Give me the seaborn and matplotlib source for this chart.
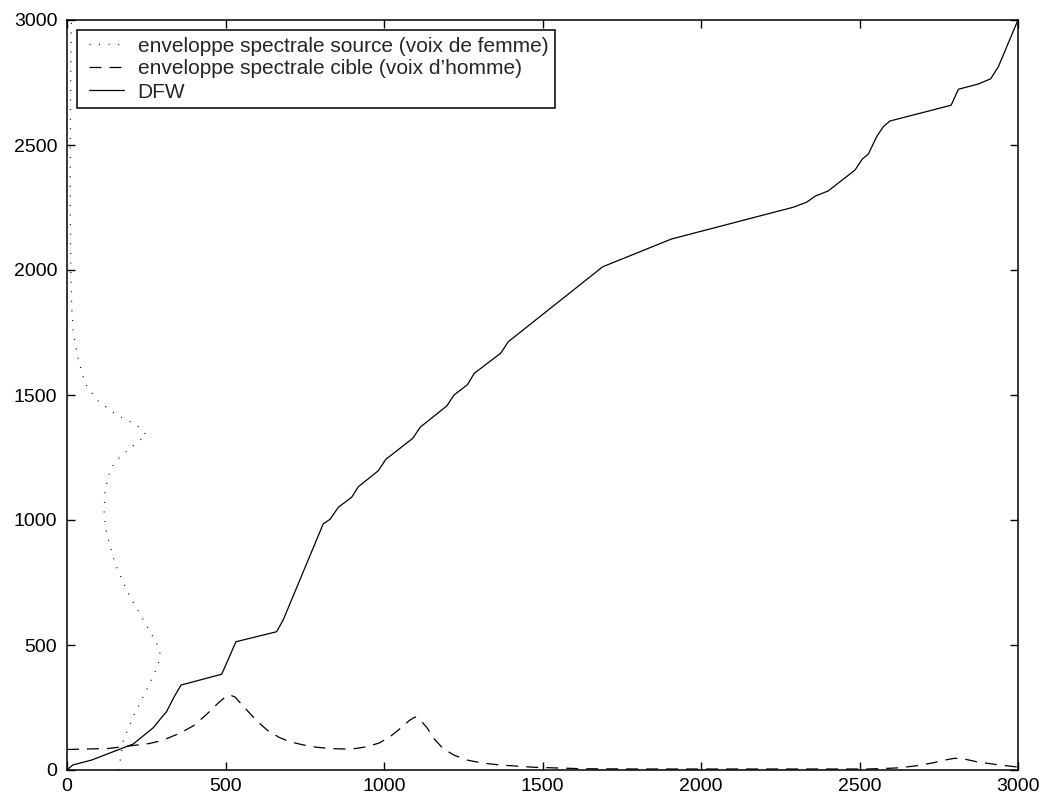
import matplotlib
matplotlib.use("Agg")
import matplotlib.pyplot as plt
import seaborn as sns
import pandas as pd
from matplotlib.lines import Line2D
from matplotlib.legend_handler import HandlerLine2D

# Source spectral envelope (female voice): amplitude on x, frequency on y
src_amp = [163, 178, 209, 251, 288, 293, 283, 241, 193, 151, 125, 117, 120, 136, 157,
           204, 251, 220, 157, 94, 57, 36, 20, 15, 12, 10, 11, 12, 14]
src_freq = [0, 120, 213, 320, 420, 467, 507, 600, 707, 827, 947, 1027, 1120, 1200, 1240,
            1293, 1340, 1380, 1420, 1480, 1547, 1640, 1747, 1847, 2000, 2300, 2600, 2850, 3000]

# Target spectral envelope (male voice)
tgt_freq = [0, 130, 209, 260, 300, 356, 400, 440, 477, 500, 514, 530, 567, 600, 631, 670,
            703, 750, 787, 830, 872, 910, 945, 985, 1019, 1050, 1080, 1098, 1112, 1135,
            1160, 1187, 1220, 1261, 1310, 1366, 1471, 1628, 1800, 2100, 2400, 2523,
            2580, 2628, 2680, 2733, 2770, 2801, 2830, 2870, 2930, 2991, 3000]
tgt_amp = [82, 86, 98, 106, 118, 147, 178, 222, 268, 293, 300, 292, 240, 195, 160, 130,
           113, 99, 91, 86, 84, 86, 93, 108, 133, 165, 198, 212, 204, 170,
           122, 85, 60, 40, 28, 20, 11, 5, 4, 4, 4, 4,
           6, 9, 17, 29, 40, 47, 44, 33, 22, 13, 12]

# Dynamic frequency warping path
dfw_src = [0, 18, 78, 209, 272, 299, 314, 338, 360, 488, 533, 661, 682, 808, 830, 856,
           898, 919, 982, 1006, 1091, 1114, 1198, 1221, 1263, 1285, 1368, 1392, 1690,
           1907, 2291, 2333, 2361, 2401, 2486, 2509, 2528, 2554, 2575, 2596, 2789, 2812,
           2875, 2914, 2938, 3000]
dfw_tgt = [0, 20, 40, 104, 169, 211, 233, 293, 340, 383, 513, 553, 600, 984, 1003, 1051,
           1091, 1133, 1197, 1243, 1327, 1371, 1456, 1500, 1541, 1587, 1667, 1713, 2013,
           2124, 2251, 2271, 2296, 2316, 2400, 2444, 2464, 2533, 2573, 2596, 2659, 2723,
           2744, 2765, 2813, 3000]

labels = ["enveloppe spectrale source (voix de femme)",
          "enveloppe spectrale cible (voix d\u2019homme)",
          "DFW"]
ticks = [0, 500, 1000, 1500, 2000, 2500, 3000]

sns.set_theme(style="white")
plt.rcParams["font.family"] = ["Liberation Sans", "DejaVu Sans"]
plt.rcParams["lines.scale_dashes"] = False

fig = plt.figure(figsize=(10.43, 7.98), dpi=100)
ax = fig.add_axes([67 / 1043, 28 / 798, 951 / 1043, 750 / 798])

src = pd.DataFrame({"amp": src_amp, "freq": src_freq})
tgt = pd.DataFrame({"freq": tgt_freq, "amp": tgt_amp})
dfw = pd.DataFrame({"src": dfw_src, "tgt": dfw_tgt})

lw = 0.9
sns.lineplot(data=src, x="amp", y="freq", sort=False, estimator=None, ax=ax,
             color="black", lw=lw, label=labels[0])
ax.lines[-1].set_dashes((0.7, 6.2))
sns.lineplot(data=tgt, x="freq", y="amp", sort=False, estimator=None, ax=ax,
             color="black", lw=lw, label=labels[1])
ax.lines[-1].set_dashes((8.6, 5.8))
sns.lineplot(data=dfw, x="src", y="tgt", sort=False, estimator=None, ax=ax,
             color="black", lw=lw, label=labels[2])

ax.set_xlim(0, 3000)
ax.set_ylim(0, 3000)
ax.set_xticks(ticks)
ax.set_yticks(ticks)
ax.set_xlabel("")
ax.set_ylabel("")
ax.tick_params(direction="in", length=6, width=1.0, colors="black",
               labelsize=14, top=True, right=True, bottom=True, left=True)
ax.tick_params(axis="y", pad=7)
ax.tick_params(axis="x", pad=6)
for s in ax.spines.values():
    s.set_color("black")
    s.set_linewidth(1.1)
    s.set_visible(True)
ax.grid(False)

fs = 15
px = fs * 100 / 72
leg = ax.legend(loc="upper left", bbox_to_anchor=(10 / 951, 740 / 750),
                borderaxespad=0, frameon=True, fancybox=False, fontsize=fs,
                handlelength=40 / px, handletextpad=14 / px, labelspacing=4 / px,
                borderpad=6.5 / px,
                handler_map={Line2D: HandlerLine2D(xpad=5 / px)})
leg.get_frame().set_edgecolor("black")
leg.get_frame().set_linewidth(1.1)
leg.get_frame().set_facecolor("white")
leg.get_frame().set_alpha(1)

fig.savefig("out.png", dpi=100)
